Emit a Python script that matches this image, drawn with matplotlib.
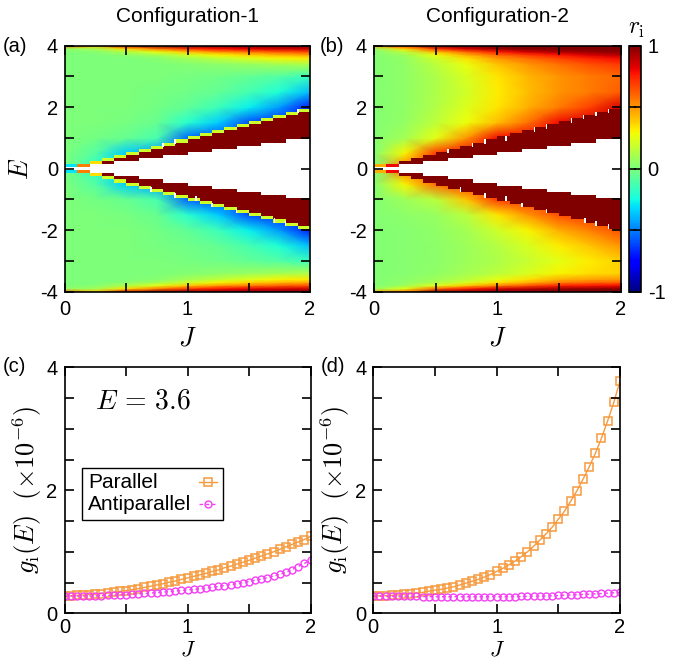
import numpy as np
import matplotlib.pyplot as plt
from matplotlib.patches import Rectangle
from matplotlib.lines import Line2D
from matplotlib.ticker import MultipleLocator

plt.rcParams['font.family'] = ['Liberation Sans', 'DejaVu Sans']
plt.rcParams['mathtext.fontset'] = 'cm'
plt.rcParams['axes.unicode_minus'] = False
plt.rcParams['axes.linewidth'] = 1.2

# r_i sampled on a coarse (E, J) lattice; rows follow E_knots, columns J_knots
J_knots = [0.0, 0.25, 0.5, 0.75, 1.0, 1.25, 1.5, 1.75, 2.0]
E_knots = [0.0, 0.5, 1.0, 1.5, 2.0, 2.5, 3.0, 3.4, 3.6, 3.7, 3.8, 3.9, 4.0]

r1_upper = [
    [0.0, -0.20, -0.35, -0.45, -0.55, -0.60, -0.62, -0.65, -0.70],
    [0.0, -0.10, -0.35, -0.45, -0.55, -0.60, -0.62, -0.65, -0.70],
    [0.0, -0.02, -0.05, -0.12, -0.55, -0.60, -0.62, -0.65, -0.70],
    [0.0, 0.00, -0.01, -0.05, -0.20, -0.35, -0.60, -0.65, -0.70],
    [0.0, 0.00, 0.00, -0.02, -0.07, -0.15, -0.28, -0.45, -0.70],
    [0.0, 0.00, 0.00, -0.01, -0.03, -0.06, -0.13, -0.22, -0.38],
    [0.0, 0.00, 0.00, 0.00, -0.01, -0.03, -0.06, -0.10, -0.16],
    [0.0, 0.00, 0.00, 0.00, 0.02, 0.04, 0.07, 0.10, 0.12],
    [0.0, 0.00, 0.00, 0.03, 0.10, 0.17, 0.24, 0.30, 0.33],
    [0.0, 0.00, 0.04, 0.10, 0.20, 0.30, 0.38, 0.43, 0.47],
    [0.0, 0.03, 0.12, 0.25, 0.40, 0.50, 0.57, 0.62, 0.66],
    [0.05, 0.10, 0.35, 0.55, 0.70, 0.78, 0.82, 0.85, 0.87],
    [0.6, 0.40, 0.85, 1.00, 1.00, 1.00, 1.00, 1.00, 1.00],
]
r1_lower = r1_upper

r2_upper = [
    [0.02, 0.60, 0.70, 0.80, 0.80, 0.80, 0.80, 0.85, 0.90],
    [0.02, 0.30, 0.70, 0.80, 0.80, 0.80, 0.80, 0.85, 0.90],
    [0.02, 0.10, 0.25, 0.50, 0.80, 0.80, 0.80, 0.85, 0.90],
    [0.02, 0.06, 0.16, 0.28, 0.42, 0.58, 0.80, 0.85, 0.90],
    [0.02, 0.05, 0.13, 0.23, 0.33, 0.45, 0.56, 0.68, 0.85],
    [0.02, 0.05, 0.12, 0.21, 0.32, 0.42, 0.50, 0.56, 0.62],
    [0.02, 0.05, 0.12, 0.22, 0.33, 0.43, 0.50, 0.56, 0.60],
    [0.02, 0.05, 0.15, 0.27, 0.40, 0.50, 0.58, 0.65, 0.70],
    [0.02, 0.06, 0.20, 0.35, 0.50, 0.60, 0.68, 0.75, 0.80],
    [0.02, 0.08, 0.28, 0.45, 0.60, 0.70, 0.78, 0.85, 0.90],
    [0.02, 0.15, 0.42, 0.60, 0.75, 0.85, 0.92, 0.95, 0.97],
    [0.05, 0.35, 0.70, 0.85, 0.95, 1.00, 1.00, 1.00, 1.00],
    [0.45, 0.75, 1.00, 1.00, 1.00, 1.00, 1.00, 1.00, 1.00],
]
r2_lower = [
    [0.02, 0.60, 0.70, 0.70, 0.70, 0.70, 0.70, 0.70, 0.70],
    [0.02, 0.30, 0.60, 0.70, 0.70, 0.70, 0.70, 0.70, 0.70],
    [0.02, 0.08, 0.15, 0.40, 0.70, 0.70, 0.70, 0.70, 0.70],
    [0.02, 0.04, 0.07, 0.15, 0.33, 0.50, 0.65, 0.70, 0.70],
    [0.02, 0.03, 0.05, 0.10, 0.20, 0.30, 0.45, 0.55, 0.65],
    [0.02, 0.03, 0.04, 0.08, 0.14, 0.22, 0.32, 0.40, 0.50],
    [0.02, 0.03, 0.04, 0.08, 0.12, 0.18, 0.25, 0.32, 0.38],
    [0.02, 0.03, 0.05, 0.10, 0.15, 0.22, 0.30, 0.35, 0.38],
    [0.02, 0.04, 0.08, 0.15, 0.25, 0.35, 0.45, 0.48, 0.50],
    [0.02, 0.05, 0.12, 0.22, 0.35, 0.45, 0.55, 0.60, 0.62],
    [0.02, 0.08, 0.25, 0.40, 0.55, 0.65, 0.75, 0.78, 0.80],
    [0.05, 0.25, 0.60, 0.75, 0.85, 0.90, 0.95, 0.97, 1.00],
    [0.45, 0.60, 1.00, 1.00, 1.00, 1.00, 1.00, 1.00, 1.00],
]

# band staircase, one entry per J bin of width 0.1
J_bins = np.round(np.arange(0, 2.01, 0.1), 2)
gap_half = [0.05, 0.05, 0.15, 0.15, 0.25, 0.25, 0.35, 0.35, 0.45, 0.45,
            0.55, 0.55, 0.65, 0.65, 0.75, 0.75, 0.85, 0.85, 0.95, 0.95]
edge_mid = [0.1, 0.1, 0.2, 0.3, 0.4, 0.5, 0.6, 0.7, 0.8, 0.9,
            1.0, 1.1, 1.2, 1.3, 1.4, 1.5, 1.6, 1.7, 1.8, 1.9]
edge_r1 = [-0.3, 0.55, 0.35] + [0.2] * 17
edge_r2 = [0.45, 0.8] + [1.0] * 18

# J positions of the missing (white) cells at the band edge
slits1_up = [0.8, 0.9, 1.9]
slits1_dn = [0.7, 0.9, 1.07, 1.2, 1.4, 1.71, 1.8]
slits2_up = [0.6, 0.8, 0.9, 1.07, 1.3, 1.4, 1.6, 1.7, 1.8, 1.9]
slits2_dn = [0.7, 0.9, 1.07, 1.2, 1.4, 1.71, 1.8, 1.9]

# g_i(E=3.6) in units of 1e-6
J_line = np.round(np.arange(0, 2.001, 0.05), 2)
g1_par = [0.28, 0.285, 0.29, 0.295, 0.305, 0.31, 0.32, 0.33, 0.34, 0.355,
          0.37, 0.385, 0.40, 0.42, 0.44, 0.46, 0.48, 0.505, 0.525, 0.55,
          0.575, 0.60, 0.625, 0.65, 0.68, 0.705, 0.74, 0.765, 0.80, 0.83,
          0.86, 0.895, 0.93, 0.965, 1.0, 1.04, 1.08, 1.12, 1.16, 1.20, 1.25]
g1_anti = [0.28, 0.28, 0.28, 0.28, 0.282, 0.285, 0.288, 0.291, 0.295, 0.30,
           0.305, 0.31, 0.316, 0.322, 0.33, 0.337, 0.345, 0.353, 0.362, 0.371,
           0.38, 0.39, 0.40, 0.412, 0.424, 0.437, 0.451, 0.466, 0.482, 0.499,
           0.517, 0.537, 0.558, 0.581, 0.606, 0.635, 0.67, 0.71, 0.76, 0.81, 0.87]
g2_par = [0.28, 0.283, 0.287, 0.29, 0.30, 0.31, 0.32, 0.33, 0.34, 0.36,
          0.375, 0.39, 0.41, 0.43, 0.46, 0.49, 0.52, 0.55, 0.59, 0.63,
          0.68, 0.73, 0.79, 0.85, 0.92, 1.0, 1.09, 1.19, 1.29, 1.40,
          1.53, 1.66, 1.82, 1.99, 2.18, 2.38, 2.6, 2.85, 3.13, 3.43, 3.78]
g2_anti = [0.28, 0.28, 0.279, 0.278, 0.277, 0.276, 0.275, 0.274, 0.273, 0.272,
           0.271, 0.27, 0.27, 0.27, 0.27, 0.27, 0.27, 0.27, 0.27, 0.27,
           0.27, 0.271, 0.272, 0.273, 0.274, 0.276, 0.278, 0.28, 0.283, 0.286,
           0.29, 0.294, 0.298, 0.302, 0.307, 0.312, 0.317, 0.322, 0.328, 0.334, 0.34]
series_names = ['Parallel', 'Antiparallel']

c_par = '#f79a3e'
c_anti = '#f53ff5'
cmap = plt.get_cmap('jet')
FS = 14.5
W, H = 676, 664

fig = plt.figure(figsize=(W / 100, H / 100), dpi=100)


def box(x0, y0, x1, y1):
    return [x0 / W, 1 - y1 / H, (x1 - x0) / W, (y1 - y0) / H]


ax_a = fig.add_axes(box(65, 45.7, 310, 291.7))
ax_b = fig.add_axes(box(374, 45.7, 620.7, 291.7))
cax = fig.add_axes(box(629.3, 45.7, 640.7, 291.7))
ax_c = fig.add_axes(box(64.5, 367.3, 310.5, 613.3))
ax_d = fig.add_axes(box(373.3, 367.3, 620, 613.3))


def style(ax, xlab_y, xlab_fs, xpad):
    ax.set_axisbelow(False)
    ax.tick_params(which='both', direction='in', top=True, right=True,
                   length=6.5, width=1.2, labelsize=FS)
    ax.tick_params(axis='x', which='both', pad=xpad)
    ax.tick_params(axis='y', which='both', pad=5)
    ax.xaxis.set_major_locator(MultipleLocator(1))
    ax.xaxis.set_minor_locator(MultipleLocator(0.5))
    ax.set_xlim(0, 2)
    ax.set_xlabel('$J$', fontsize=xlab_fs)
    ax.xaxis.set_label_coords(0.5, xlab_y)


def heatmap(ax, upper, lower, edge_r, slits_up, slits_dn):
    up = np.array(upper)
    lo = np.array(lower)
    E = np.concatenate([-np.array(E_knots[::-1]), E_knots[1:]])
    R = np.vstack([lo[::-1], up[1:]])
    mesh = ax.pcolormesh(J_knots, E, R, shading='gouraud', cmap=cmap,
                         vmin=-1, vmax=1)
    left = J_bins[:-1]
    g = np.array(gap_half)
    m = np.array(edge_mid)
    edge_c = cmap((np.array(edge_r) + 1) / 2)
    for s in (1, -1):
        ax.bar(left, s * (m - 0.05 - g), bottom=s * g, width=0.1, align='edge',
               color=cmap(1.0), linewidth=0, antialiased=False)
        ax.bar(left, s * 0.1, bottom=s * (m - 0.05), width=0.1, align='edge',
               color=edge_c, linewidth=0, antialiased=False)
    ax.bar(left, 2 * g, bottom=-g, width=0.1, align='edge', color='white',
           linewidth=0, antialiased=False)
    for s, js in ((1, slits_up), (-1, slits_dn)):
        js = np.array(js)
        mm = m[np.floor(js * 10 + 1e-6).astype(int)]
        ax.bar(js, s * 0.15, bottom=s * (mm - 0.1), width=0.013,
               color='white', linewidth=0)
    style(ax, -0.143, 19, 6)
    ax.set_ylim(-4, 4)
    ax.yaxis.set_major_locator(MultipleLocator(2))
    ax.yaxis.set_minor_locator(MultipleLocator(1))
    return mesh


heatmap(ax_a, r1_upper, r1_lower, edge_r1, slits1_up, slits1_dn)
mesh_b = heatmap(ax_b, r2_upper, r2_lower, edge_r2, slits2_up, slits2_dn)
ax_a.set_ylabel('$E$', fontsize=19)
ax_a.yaxis.set_label_coords(-0.13, 0.5)

cb = fig.colorbar(mesh_b, cax=cax, ticks=[-1, -0.5, 0, 0.5, 1])
cb.ax.set_yticklabels(['-1', '', '0', '', '1'])
cax.tick_params(direction='in', length=5, width=1.2, left=True, right=True,
                labelsize=FS, pad=5)
cb.outline.set_linewidth(1.2)
fig.text(636 / W, 1 - 29 / H, r'$r_{\rm i}$', ha='center', va='center', fontsize=17)

par_kw = dict(color=c_par, lw=1.0, marker='s', ms=6, mfc='none', mec=c_par, mew=1.1)
anti_kw = dict(color=c_anti, lw=1.0, ls=(0, (2.5, 2)), marker='o', ms=5,
               mfc='none', mec=c_anti, mew=1.0)

for ax, par, anti in ((ax_c, g1_par, g1_anti), (ax_d, g2_par, g2_anti)):
    ax.plot(J_line, par, **par_kw)
    ax.plot(J_line, anti, **anti_kw)
    style(ax, -0.106, 16, 3.5)
    ax.set_ylim(0, 4)
    ax.yaxis.set_major_locator(MultipleLocator(2))
    ax.yaxis.set_minor_locator(MultipleLocator(0.5))
    ax.set_ylabel(r'$g_{\rm i}(E)\ \ (\times 10^{-6})$', fontsize=19)
    ax.yaxis.set_label_coords(-0.085, 0.5)

# key box: text on the left, sample line on the right
ax_c.add_patch(Rectangle((0.0711, 0.3793), 0.5732, 0.2114, transform=ax_c.transAxes,
                         facecolor='white', edgecolor='black', lw=1.0, zorder=4))
for name, kw, ty in ((series_names[0], par_kw, 0.5337), (series_names[1], anti_kw, 0.4443)):
    ax_c.text(0.0955, ty, name, transform=ax_c.transAxes, fontsize=15,
              ha='left', va='center', zorder=5)
    ax_c.add_line(Line2D([0.5467, 0.6199], [ty, ty], transform=ax_c.transAxes,
                         zorder=5, **{k: v for k, v in kw.items() if k != 'marker'}))
    ax_c.add_line(Line2D([0.5833], [ty], transform=ax_c.transAxes, zorder=5, ls='none',
                         marker=kw['marker'], ms=kw['ms'], mfc='none',
                         mec=kw['mec'], mew=kw['mew']))

ax_c.text(0.124, 0.863, r'$E\,=\,3.6$', transform=ax_c.transAxes, fontsize=20,
          ha='left', va='center')

fig.text(187.5 / W, 1 - 17 / H, 'Configuration-1', ha='center', va='center', fontsize=15)
fig.text(497 / W, 1 - 17 / H, 'Configuration-2', ha='center', va='center', fontsize=15)
for label, x, y in (('(a)', 3, 46), ('(b)', 320, 46), ('(c)', 3, 367), ('(d)', 321, 367)):
    fig.text(x / W, 1 - y / H, label, ha='left', va='center', fontsize=FS)

fig.savefig('out.png', dpi=100)
